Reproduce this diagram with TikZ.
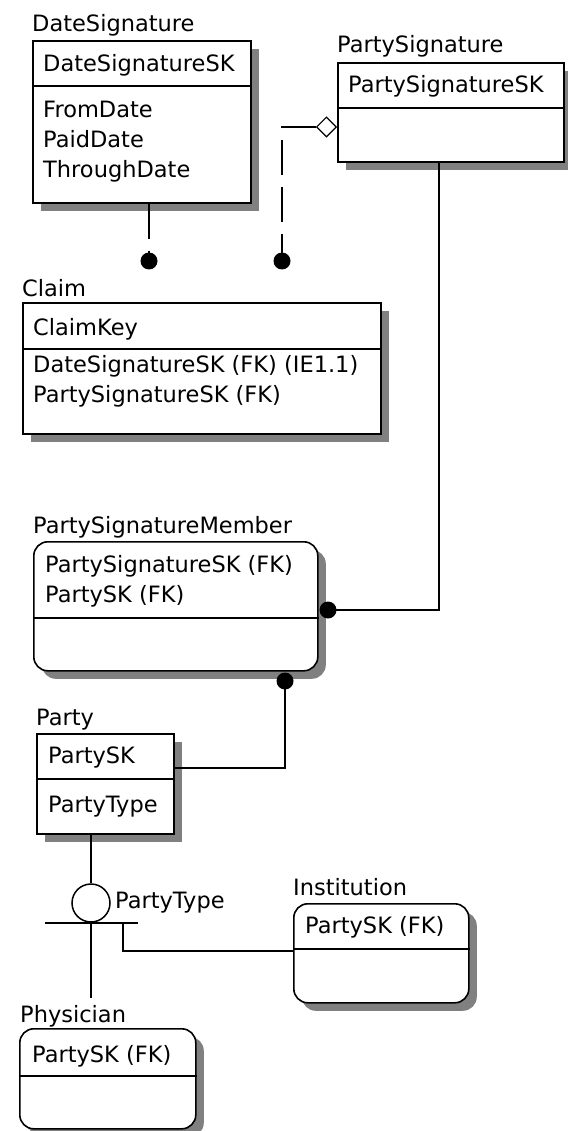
\documentclass[tikz,border=0pt]{standalone}
\usepackage{fontspec}
\setmainfont{DejaVu Sans}
\usetikzlibrary{shadows,shapes.geometric}
\begin{document}
\begin{tikzpicture}[
  x=1pt, y=-1pt,
  every node/.style={font=\fontsize{22.5}{27}\selectfont, inner sep=0pt},
  entity/.style={draw, line width=1.6pt, fill=white, anchor=north west,
    drop shadow={shadow xshift=8pt, shadow yshift=-8pt, fill=black!50, opacity=1}},
  depentity/.style={entity, rounded corners=14pt},
  txt/.style={anchor=base west},
  rel/.style={line width=1.5pt},
  nonident/.style={rel, dash pattern=on 35pt off 12pt},
  blob/.style={circle, fill=black, minimum size=17pt}
]
\useasboundingbox (0,0) rectangle (567,1131);

% DateSignature
\node[entity, minimum width=218pt, minimum height=162pt] (ds) at (32,40) {};
\draw[line width=1.6pt] (ds.west |- 0,86) -- (ds.east |- 0,86);
\node[txt] (dsname) at (32,32) {DateSignature};
\node[txt] (dskey) at (43,72) {DateSignatureSK};
\foreach \a [count=\i] in {FromDate, PaidDate, ThroughDate}
  \node[txt] (dsa\i) at (43,88+30*\i) {\a};

% PartySignature
\node[entity, minimum width=226pt, minimum height=99pt] (ps) at (337,62) {};
\draw[line width=1.6pt] (ps.west |- 0,108) -- (ps.east |- 0,108);
\node[txt] (psname) at (337,53) {PartySignature};
\node[txt] (pskey) at (348,93) {PartySignatureSK};
\node[diamond, draw, fill=white, line width=1.2pt, minimum size=20pt, anchor=east]
  (psdiam) at (ps.west |- 0,127) {};

% Claim
\node[entity, minimum width=358pt, minimum height=131pt] (cl) at (22,302) {};
\draw[line width=1.6pt] (cl.west |- 0,349) -- (cl.east |- 0,349);
\node[txt] (clname) at (22,297) {Claim};
\node[txt] (clkey) at (33,335) {ClaimKey};
\node[txt] (cla1) at (33,372) {DateSignatureSK (FK) (IE1.1)};
\node[txt] (cla2) at (33,402) {PartySignatureSK (FK)};
\node[blob] (cldot1) at (149,261) {};
\node[blob] (cldot2) at (282,261) {};

% PartySignatureMember
\node[depentity, minimum width=284pt, minimum height=129pt] (psm) at (33,541) {};
\draw[line width=1.6pt] (psm.west |- 0,618) -- (psm.east |- 0,618);
\node[txt] (psmname) at (33,533) {PartySignatureMember};
\node[txt] (psmk1) at (45,572) {PartySignatureSK (FK)};
\node[txt] (psmk2) at (45,602) {PartySK (FK)};
\node[blob] (psmdot1) at (328,610) {};
\node[blob] (psmdot2) at (285,681) {};

% Party
\node[entity, minimum width=137pt, minimum height=100pt] (pt) at (36,733) {};
\draw[line width=1.6pt] (pt.west |- 0,779) -- (pt.east |- 0,779);
\node[txt] (ptname) at (36,725) {Party};
\node[txt] (ptkey) at (48,763) {PartySK};
\node[txt] (pta1) at (48,812) {PartyType};

% subtype
\node[circle, draw, line width=1.5pt, minimum size=38pt] (subc) at (91,903) {};
\node[txt] (subname) at (115,908) {PartyType};
\coordinate (barl) at (45,923);
\coordinate (barr) at (138,923);
\coordinate (instub) at (123,923);
\coordinate (phytop) at (91,998);

% Institution
\node[depentity, minimum width=175pt, minimum height=99pt] (inst) at (293,903) {};
\draw[line width=1.6pt] (inst.west |- 0,949) -- (inst.east |- 0,949);
\node[txt] (instname) at (293,895) {Institution};
\node[txt] (instkey) at (305,933) {PartySK (FK)};

% Physician
\node[depentity, minimum width=176pt, minimum height=100pt] (phy) at (19,1028) {};
\draw[line width=1.6pt] (phy.west |- 0,1076) -- (phy.east |- 0,1076);
\node[txt] (phyname) at (20,1022) {Physician};
\node[txt] (phykey) at (32,1062) {PartySK (FK)};

% relationships
\draw[nonident] (ds.south -| cldot1) -- (cldot1.center);
\draw[nonident] (psdiam.west) -| (cldot2.center);
\draw[rel] (ps.south -| 439,0) |- (psmdot1.center);
\draw[rel] (psmdot2.center) |- (pt.east |- 0,768);
\draw[rel] (pt.south -| subc) -- (subc.north);
\draw[rel] (barl) -- (barr);
\draw[rel] (subc.south) -- (phytop);
\draw[rel] (instub) |- (inst.west |- 0,951);
\end{tikzpicture}
\end{document}
